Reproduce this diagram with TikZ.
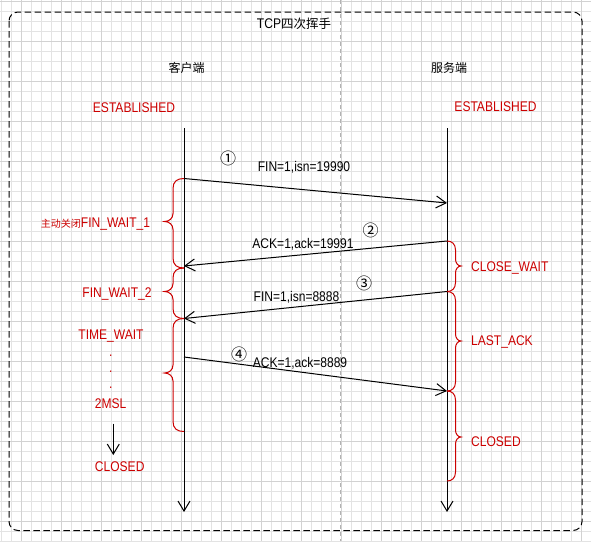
\documentclass[tikz,border=0pt]{standalone}
\usepackage{fontspec}
\setmainfont{Liberation Sans}[FakeStretch=0.86]
\newfontfamily\cjk{Noto Sans CJK SC}
\usetikzlibrary{arrows.meta}
\definecolor{stred}{HTML}{CC0000}
\definecolor{gridminor}{HTML}{E3E3E3}
\definecolor{gridmajor}{HTML}{D2D2D2}
\newcommand{\bracelft}[3]{%
  \draw[bracestyle] (184,#1) .. controls (177,#1) and (173,#1+3) .. (173,#1+10)
    -- (173,#2-8) .. controls (173,#2-3) and (169,#2) .. (164.5,#2)
    .. controls (169,#2) and (173,#2+3) .. (173,#2+8)
    -- (173,#3-10) .. controls (173,#3-3) and (177,#3) .. (184,#3);}
\newcommand{\bracergt}[3]{%
  \draw[bracestyle] (447,#1) .. controls (452,#1) and (455.5,#1+3) .. (455.5,#1+9)
    -- (455.5,#2-7) .. controls (455.5,#2-3) and (458,#2) .. (461,#2)
    .. controls (458,#2) and (455.5,#2+3) .. (455.5,#2+7)
    -- (455.5,#3-9) .. controls (455.5,#3-3) and (452,#3) .. (447,#3);}
\begin{document}
\begin{tikzpicture}[x=1pt,y=-1pt,
  lbl/.style={inner sep=0pt, text height=10pt, text depth=0pt, font=\fontsize{14}{16}\selectfont},
  redlbl/.style={lbl, text=stred},
  cjklbl/.style={inner sep=0pt, text height=8.6pt, text depth=0pt, font=\cjk\fontsize{12}{14}\selectfont},
  numlbl/.style={inner sep=0pt, font=\cjk\fontsize{16}{16}\selectfont},
  msg/.style={line width=1pt, -{Straight Barb[length=10pt,width=12pt]}},
  life/.style={line width=1pt, -{Straight Barb[length=10pt,width=12pt]}},
  bracestyle/.style={stred, line width=1pt}]
\useasboundingbox (0,0) rectangle (591,541);
\fill[white] (0,0) rectangle (591,541);
% grid
\foreach \i in {0,...,59} {\draw[gridminor, line width=0.8pt] ({1.5+10*\i},0) -- ({1.5+10*\i},541);}
\foreach \i in {0,...,54} {\draw[gridminor, line width=0.8pt] (0,{1.5+10*\i}) -- (591,{1.5+10*\i});}
\foreach \i in {0,...,14} {\draw[gridmajor, line width=0.8pt] ({21.5+40*\i},0) -- ({21.5+40*\i},541);}
\foreach \i in {0,...,13} {\draw[gridmajor, line width=0.8pt] (0,{1.5+40*\i}) -- (591,{1.5+40*\i});}
% page break line
\draw[gray!60, line width=0.8pt, dash pattern=on 4pt off 3pt] (340,0) -- (340,541);
% outer frame
\draw[line width=1pt, dash pattern=on 6.5pt off 3.5pt, rounded corners=9pt] (9,12) rectangle (582,530.5);

% titles
\node[lbl] (title) at (294,23) {TCP{\cjk\fontsize{12.5}{14}\selectfont 四次挥手}};
\node[cjklbl] (client) at (186.5,68) {客户端};
\node[cjklbl] (server) at (449,68) {服务端};
\node[redlbl] (estl) at (134,107.5) {ESTABLISHED};
\node[redlbl] (estr) at (495.5,106) {ESTABLISHED};

% lifelines
\coordinate (cTop) at (184,128);
\coordinate (cBot) at (184,512);
\coordinate (sTop) at (447,128);
\coordinate (sBot) at (447,512);
\draw[life] (cTop) -- (cBot);
\draw[life] (sTop) -- (sBot);

% messages
\coordinate (c1) at (184,178.5);
\coordinate (s1) at (447,203);
\coordinate (s2) at (447,241);
\coordinate (c2) at (184,266);
\coordinate (s3) at (447,291.5);
\coordinate (c3) at (184,318.5);
\coordinate (c4) at (184,357);
\coordinate (s4) at (447,391);
\draw[msg] (c1) -- (s1);
\draw[msg] (s2) -- (c2);
\draw[msg] (s3) -- (c3);
\draw[msg] (c4) -- (s4);

\node[lbl] (m1) at (304,166.5) {FIN=1,isn=19990};
\node[lbl] (m2) at (303,243.5) {ACK=1,ack=19991};
\node[lbl] (m3) at (296.5,296.5) {FIN=1,isn=8888};
\node[lbl] (m4) at (300,362.5) {ACK=1,ack=8889};

\node[numlbl] (n1) at (228,158.5) {①};
\node[numlbl] (n2) at (370.5,230) {②};
\node[numlbl] (n3) at (364,283) {③};
\node[numlbl] (n4) at (239,354) {④};

% braces
\bracelft{178.5}{221.5}{268}
\bracelft{268}{291.5}{318.5}
\bracelft{318.5}{373}{431.5}
\bracergt{241}{266}{291.5}
\bracergt{291.5}{341}{391}
\bracergt{391}{437}{481}

% state labels
\node[redlbl] (fw1) at (95.5,222.5) {{\cjk\fontsize{10}{12}\selectfont 主动关闭}FIN\_WAIT\_1};
\node[redlbl] (fw2) at (117,292.5) {FIN\_WAIT\_2};
\node[redlbl] (tw) at (111,334) {TIME\_WAIT};
\node[redlbl] (d1) at (110.7,351) {.};
\node[redlbl] (d2) at (110.7,367.5) {.};
\node[redlbl] (d3) at (110.7,383.5) {.};
\node[redlbl] (msl) at (110.7,403) {2MSL};
\coordinate (dTop) at (113.3,423.5);
\coordinate (dBot) at (113.3,455);
\draw[life] (dTop) -- (dBot);
\node[redlbl] (clL) at (119.7,466.5) {CLOSED};
\node[redlbl, anchor=west] (cw) at (471,266) {CLOSE\_WAIT};
\node[redlbl, anchor=west] (la) at (471,340) {LAST\_ACK};
\node[redlbl, anchor=west] (clR) at (471,441) {CLOSED};
\end{tikzpicture}
\end{document}
